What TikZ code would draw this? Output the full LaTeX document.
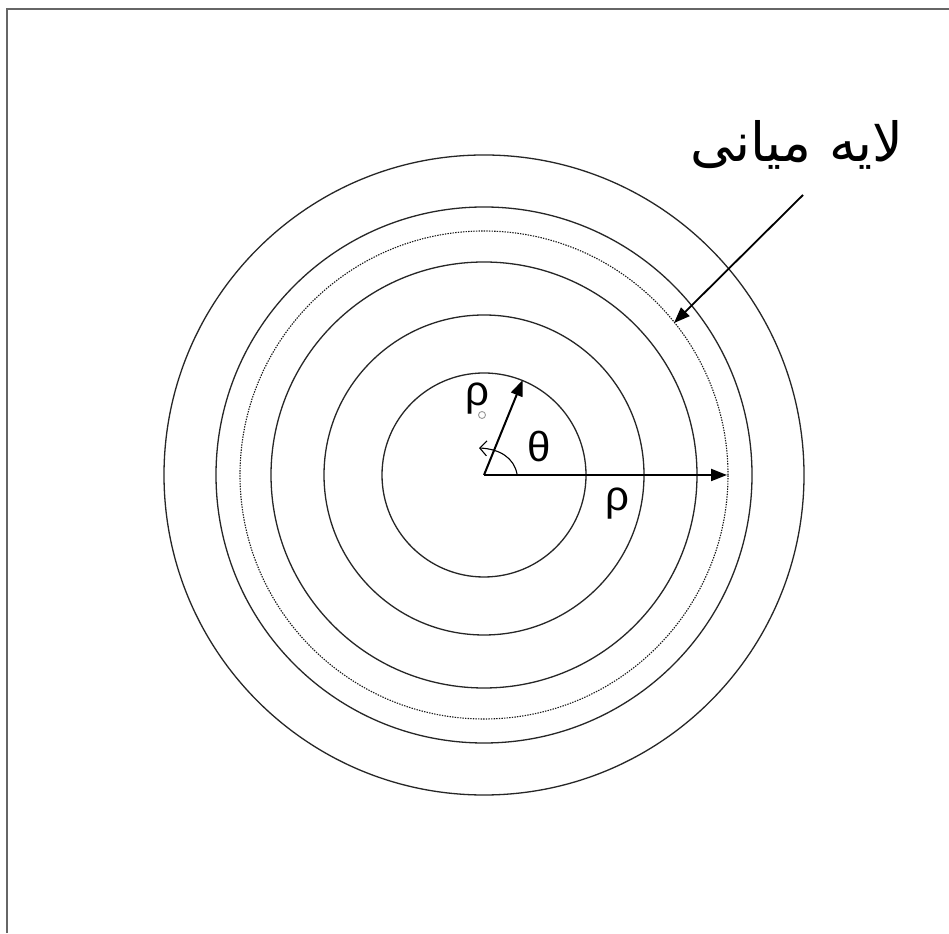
\documentclass[tikz,border=0pt]{standalone}
\usepackage{fontspec}
\usetikzlibrary{arrows.meta,calc}
\TeXXeTstate=1
\newfontfamily\grkfont{Liberation Sans}
\newfontfamily\arabicfont[Script=Arabic]{DejaVu Sans}
\tikzset{
  ring/.style={draw=black!85, line width=1.3pt},
  dotring/.style={draw=black!90, line width=1.1pt, dash pattern=on 1.4pt off 1.2pt},
  vec/.style={draw=black, line width=2pt, -{Triangle[length=16pt,width=12pt]}},
  greek/.style={inner sep=0pt, font=\grkfont\fontsize{42}{46}\selectfont},
  anglearc/.style={draw=black, line width=1.1pt, -{Straight Barb[length=7pt,width=15pt]}},
}
\begin{document}
\begin{tikzpicture}[x=1pt,y=1pt]
\useasboundingbox (0,0) rectangle (949,933);
\fill[white] (0,0) rectangle (949,933);
% frame lines (top and left)
\draw[black!60, line width=2pt] (6.5,0) -- (6.5,923.5) -- (949,923.5);
\coordinate (O) at (484,458);
\draw[ring] (O) circle (320);
\draw[ring] (O) circle (268);
\draw[dotring] (O) circle (244);
\draw[ring] (O) circle (213);
\draw[ring] (O) circle (160);
\draw[ring] (O) circle (102);
\coordinate (P1) at (522.7,553);
\coordinate (P2) at (727,458);
\draw[vec] (O) -- (P1);
\draw[vec] (O) -- (P2);
\coordinate (A1) at (517,459);
\coordinate (A2) at (479,485);
\draw[anglearc] (A1) .. controls (514,475) and (500,484) .. (A2);
\node[greek] (rho1) at (477.5,534) {ρ};
\node[circle, draw=black!40, line width=0.9pt, minimum size=7pt, inner sep=0pt] (sub) at (482,518) {};
\node[greek] (theta) at (539,486) {θ};
\node[greek] (rho2) at (617,429) {ρ};
\node[inner sep=0pt, font=\arabicfont\fontsize{54}{60}\selectfont] (lbl) at (797,788) {\beginR لایه میانی\endR};
\coordinate (L1) at (803,738);
\coordinate (L2) at (674,610);
\draw[vec, line width=1.8pt] (L1) -- (L2);
\end{tikzpicture}
\end{document}
